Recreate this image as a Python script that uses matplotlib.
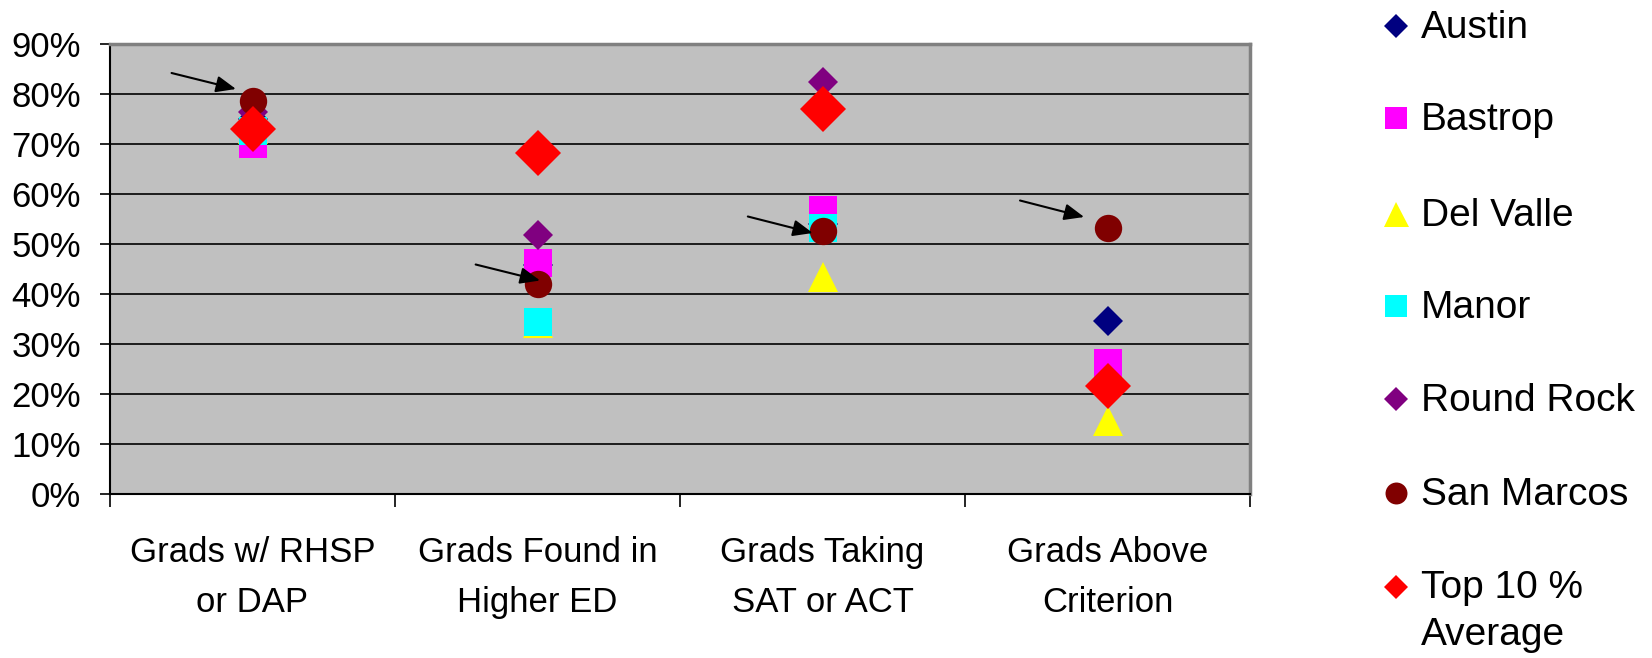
import numpy as np
import matplotlib
matplotlib.use("Agg")
import matplotlib.pyplot as plt
from matplotlib.lines import Line2D

plt.rcParams['font.family'] = ['Liberation Sans', 'DejaVu Sans']

categories = ["Grads w/ RHSP\nor DAP", "Grads Found in\nHigher ED",
              "Grads Taking\nSAT or ACT", "Grads Above\nCriterion"]
series_names = ["Austin", "Bastrop", "Del Valle", "Manor", "Round Rock",
                "San Marcos", "Top 10 %\nAverage"]
austin = [0.75, 0.459, 0.54, 0.347]
bastrop = [0.701, 0.463, 0.569, 0.263]
del_valle = [0.73, 0.342, 0.435, 0.147]
manor = [0.726, 0.344, 0.532, np.nan]
round_rock = [0.765, 0.519, 0.824, 0.22]
san_marcos = [0.787, 0.421, 0.527, 0.533]
top10 = [0.73, 0.682, 0.771, 0.217]
yticks = [0, 0.1, 0.2, 0.3, 0.4, 0.5, 0.6, 0.7, 0.8, 0.9]
ytick_labels = ["0%", "10%", "20%", "30%", "40%", "50%", "60%", "70%", "80%", "90%"]

# annotation arrows (tail -> tip) pointing at San Marcos
arrow_tail = [(0.716, 0.842), (1.783, 0.459), (2.738, 0.555), (3.693, 0.587)]
arrow_tip = [(0.942, 0.810), (2.009, 0.427), (2.966, 0.522), (3.918, 0.554)]

values = [austin, bastrop, del_valle, manor, round_rock, san_marcos, top10]
colors = ["#000080", "#FF00FF", "#FFFF00", "#00FFFF", "#800080", "#800000", "#FF0000"]
markers = ["D", "s", "^", "s", "D", "o", "D"]
sizes = [15.3, 19.7, 22, 19.7, 15.3, 19.7, 23.4]
leg_sizes = [12.2, 15.8, 18, 15.8, 12.2, 15.8, 12.2]

W, H = 1652, 658
fig = plt.figure(figsize=(W / 100, H / 100), dpi=100)
ax = fig.add_axes([110 / W, 1 - 494 / H, 1140 / W, 450 / H])
ax.set_facecolor("#C0C0C0")

x = np.arange(1, len(categories) + 1)
for vals, c, m, s in zip(values, colors, markers, sizes):
    ax.plot(x, vals, linestyle="none", marker=m, markersize=s, color=c,
            markeredgewidth=0, zorder=3)

for tail, tip in zip(arrow_tail, arrow_tip):
    ax.annotate("", xy=tip, xytext=tail,
                arrowprops=dict(arrowstyle="-|>,head_length=0.6,head_width=0.25",
                                color="black", lw=1.5, shrinkA=0, shrinkB=0,
                                mutation_scale=20), zorder=5)

ax.set_xlim(0.5, len(categories) + 0.5)
ax.set_ylim(0, 0.9)
ax.set_yticks(yticks)
ax.set_yticklabels(ytick_labels, fontsize=25)
ax.yaxis.grid(True, color="black", linewidth=1.2)
ax.set_axisbelow(True)

ax.set_xticks(np.arange(0.5, len(categories) + 1.0, 1.0))
ax.set_xticklabels([])
ax.set_xticks(x, minor=True)
ax.set_xticklabels(categories, minor=True, fontsize=25, linespacing=1.65)
ax.tick_params(axis="x", which="major", direction="out", length=9, width=1.2, color="black")
ax.tick_params(axis="x", which="minor", length=0, pad=30.5)
ax.tick_params(axis="y", direction="out", length=7, width=1.2, color="black", pad=14)

for sp in ["left", "bottom"]:
    ax.spines[sp].set_color("black")
    ax.spines[sp].set_linewidth(1.5)
for sp in ["top", "right"]:
    ax.spines[sp].set_color("#808080")
    ax.spines[sp].set_linewidth(2.5)

# legend drawn at right side
leg_y = [24, 116, 212, 304, 397, 491, 585]
for name, c, m, s, py in zip(series_names, colors, markers, leg_sizes, leg_y):
    fig.add_artist(Line2D([1396 / W], [1 - (py + 1.5) / H], transform=fig.transFigure,
                          marker=m, markersize=s, color=c, markeredgewidth=0,
                          linestyle="none"))
    if "\n" in name:
        fig.text(1421 / W, 1 - (py - 15) / H, name, fontsize=28, ha="left",
                 va="top", linespacing=1.4)
    else:
        fig.text(1421 / W, 1 - (py + 4) / H, name, fontsize=28, ha="left",
                 va="center")

fig.savefig("out.png", dpi=100)
